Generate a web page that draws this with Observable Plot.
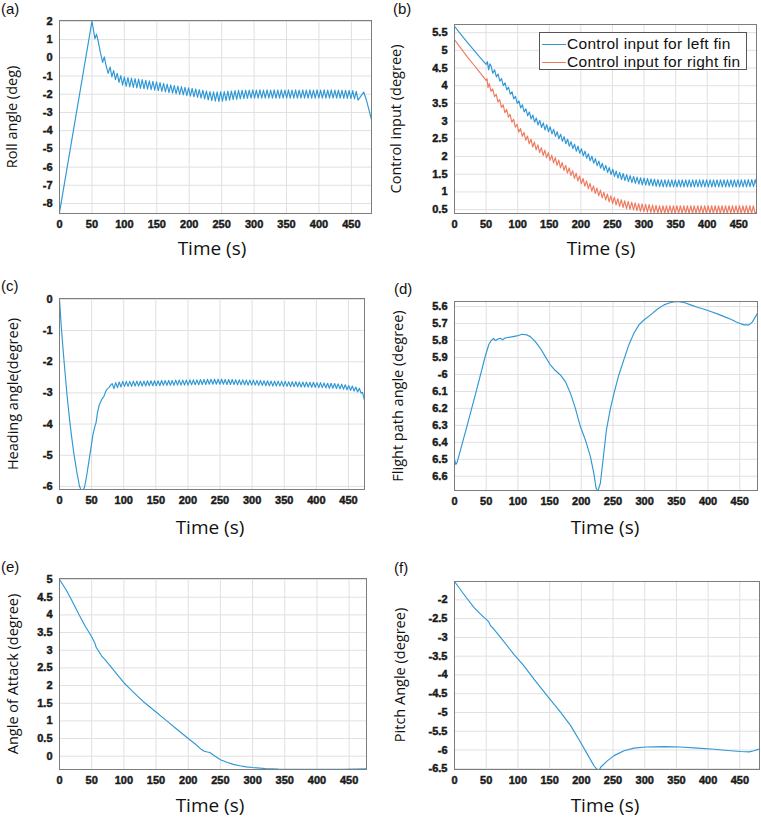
<!DOCTYPE html>
<html>
<head>
<meta charset="utf-8">
<script src="https://cdn.jsdelivr.net/npm/d3@7"></script>
<script src="https://cdn.jsdelivr.net/npm/@observablehq/plot@0.6"></script>
<style>
  body { margin: 0; background: #fff; }
  #wrap { position: relative; width: 761px; height: 817px; background: #fff; overflow: hidden; }
  #wrap svg g[aria-label$="tick label"] text { font-weight: 700; font-family: "Liberation Sans", Arial, sans-serif; stroke: #1a1a1a; stroke-width: 0.45px; paint-order: stroke; }
  .lbl { position: absolute; white-space: nowrap; line-height: 1; color: #111; }
  .ylab { font-family: "Open Sans", sans-serif; font-size: 14.5px; transform: translate(-50%, -50%) rotate(-90deg); }
  .xlab { font-family: "Open Sans", sans-serif; font-size: 19px; transform: translate(-50%, -50%); }
  .plab { font-family: "Liberation Sans", Arial, sans-serif; font-size: 15px; transform: translate(0, -50%); }
  #legend { position: absolute; left: 539px; top: 32px; width: 208px; height: 38px; box-sizing: border-box; border: 1px solid #555; background: #fff; }
  #legend .sw { position: absolute; left: 2px; width: 24px; height: 0; border-top: 1.3px solid; }
  #legend .tx { position: absolute; left: 27px; font-family: "Liberation Sans", Arial, sans-serif; font-size: 15.5px; letter-spacing: 0.3px; line-height: 1; transform: translate(0, -50%); color: #111; white-space: nowrap; }
</style>
</head>
<body>
<div id="wrap"></div>
<script>
// ---------- shared ----------
const timeTicks = [0, 50, 100, 150, 200, 250, 300, 350, 400, 450];
const oscStep = 2.75; // half period of the sampled zig-zag (s)

// ---------- (a) Roll angle ----------
const rollHeadT = [0, 50, 52, 54.5, 57, 59.5, 63, 66.5, 69, 72, 75];
const rollHeadV = [-8.5, 2.0, 1.6, 1.05, 1.3, 0.95, 0.3, -0.25, 0.05, -0.45, -0.85];
const rollOscStart = 78;
const rollOsc = [
  -0.5,-1.05, -0.7,-1.2, -0.85,-1.35, -0.98,-1.5, -1.05,-1.57, -1.08,-1.6, -1.11,-1.63, -1.14,-1.65,
  -1.17,-1.68, -1.2,-1.7, -1.23,-1.72, -1.26,-1.75, -1.29,-1.78, -1.32,-1.8, -1.36,-1.84, -1.4,-1.87,
  -1.44,-1.91, -1.48,-1.94, -1.52,-1.98, -1.55,-2.01, -1.58,-2.04, -1.62,-2.08, -1.65,-2.11, -1.68,-2.14,
  -1.71,-2.17, -1.75,-2.21, -1.78,-2.26, -1.82,-2.31, -1.85,-2.35, -1.87,-2.38, -1.87,-2.4, -1.86,-2.38,
  -1.85,-2.35, -1.83,-2.32, -1.82,-2.3, -1.8,-2.28, -1.79,-2.26, -1.78,-2.24, -1.77,-2.23, -1.77,-2.22,
  -1.76,-2.22, -1.77,-2.21, -1.76,-2.22, -1.77,-2.22, -1.76,-2.21, -1.77,-2.22, -1.76,-2.22, -1.77,-2.21,
  -1.76,-2.22, -1.77,-2.22, -1.76,-2.21, -1.77,-2.22, -1.76,-2.22, -1.77,-2.21, -1.76,-2.22, -1.77,-2.22,
  -1.76,-2.21, -1.77,-2.22, -1.76,-2.22, -1.77,-2.21, -1.76,-2.22, -1.77,-2.22, -1.76,-2.21, -1.77,-2.22,
  -1.77,-2.22, -1.78,-2.23, -1.78,-2.23, -1.79,-2.24, -1.8,-2.26, -1.84,-2.32
];
const rollTailT = [469, 473, 477, 481];
const rollTailV = [-1.88, -2.3, -2.85, -3.4];

// ---------- (b) Control inputs ----------
const leftHeadT = [0, 10, 20, 30, 40, 50, 52, 54, 56];
const leftHeadV = [5.68, 5.45, 5.23, 5.02, 4.81, 4.6, 4.68, 4.45, 4.62];
const leftOscStart = 58;
const leftOsc = [
  4.55,4.35, 4.45,4.25, 4.33,4.13, 4.2,4.0, 4.08,3.88, 3.96,3.76, 3.83,3.63, 3.7,3.5,
  3.57,3.37, 3.46,3.26, 3.35,3.15, 3.26,3.06, 3.17,2.97, 3.09,2.89, 3.02,2.82, 2.95,2.75,
  2.9,2.7, 2.84,2.64, 2.77,2.57, 2.7,2.5, 2.63,2.43, 2.56,2.36, 2.49,2.29, 2.42,2.22,
  2.35,2.15, 2.29,2.09, 2.22,2.02, 2.15,1.95, 2.08,1.88, 2.01,1.81, 1.94,1.74, 1.87,1.67,
  1.81,1.61, 1.75,1.55, 1.69,1.49, 1.64,1.44, 1.59,1.39, 1.55,1.35, 1.52,1.32, 1.49,1.29,
  1.46,1.26, 1.44,1.24, 1.42,1.22, 1.4,1.2, 1.39,1.19, 1.38,1.18, 1.37,1.17, 1.36,1.16,
  1.35,1.15, 1.34,1.14, 1.34,1.14, 1.34,1.14, 1.34,1.14, 1.34,1.14, 1.34,1.14, 1.34,1.14,
  1.34,1.14, 1.34,1.14, 1.34,1.14, 1.34,1.14, 1.34,1.14, 1.34,1.14, 1.34,1.14, 1.34,1.14,
  1.34,1.14, 1.34,1.14, 1.34,1.14, 1.34,1.14, 1.34,1.14, 1.34,1.14, 1.34,1.14, 1.34,1.14,
  1.34,1.14, 1.34,1.14, 1.35,1.15, 1.35,1.15, 1.35,1.15
];
const leftTailT = [478];
const leftTailV = [1.3];

const rightHeadT = [0, 10, 20, 30, 40, 50, 51.5, 53];
const rightHeadV = [5.3, 5.06, 4.82, 4.6, 4.38, 4.15, 4.2, 3.95];
const rightOscStart = 55;
const rightOsc = [
  4.06,3.84, 3.91,3.69, 3.76,3.54, 3.61,3.39, 3.46,3.24, 3.33,3.11, 3.19,2.97, 3.05,2.83,
  2.91,2.69, 2.79,2.57, 2.68,2.46, 2.58,2.36, 2.49,2.27, 2.41,2.19, 2.33,2.11, 2.25,2.03,
  2.18,1.96, 2.11,1.89, 2.04,1.82, 1.97,1.75, 1.9,1.68, 1.83,1.61, 1.75,1.53, 1.68,1.46,
  1.6,1.38, 1.53,1.31, 1.45,1.23, 1.38,1.16, 1.31,1.09, 1.24,1.02, 1.17,0.95, 1.11,0.89,
  1.05,0.83, 0.99,0.77, 0.94,0.72, 0.89,0.67, 0.85,0.63, 0.81,0.59, 0.78,0.56, 0.75,0.53,
  0.73,0.51, 0.71,0.49, 0.69,0.47, 0.67,0.45, 0.66,0.44, 0.65,0.43, 0.64,0.42, 0.63,0.41,
  0.62,0.4, 0.61,0.39, 0.61,0.39, 0.61,0.39, 0.61,0.39, 0.61,0.39, 0.61,0.39, 0.61,0.39,
  0.61,0.39, 0.61,0.39, 0.61,0.39, 0.61,0.39, 0.61,0.39, 0.61,0.39, 0.61,0.39, 0.61,0.39,
  0.61,0.39, 0.61,0.39, 0.61,0.39, 0.61,0.39, 0.61,0.39, 0.61,0.39, 0.61,0.39, 0.61,0.39,
  0.61,0.39, 0.61,0.39, 0.61,0.39, 0.61,0.39, 0.61,0.39
];
const rightTailT = [478];
const rightTailV = [0.45];
const legendLabels = ["Control input for left fin", "Control input for right fin"];

// ---------- (c) Heading angle ----------
const headHeadT = [0, 3, 7, 12, 17, 22, 27, 31, 35, 39, 42, 45, 48, 52, 55, 57, 59, 62, 66, 69, 72, 74, 77, 80];
const headHeadV = [0, -0.94, -1.96, -3.13, -4.1, -4.9, -5.54, -5.98, -6.2, -6.02, -5.7, -5.3, -4.9, -4.35, -4.08, -3.95, -3.65, -3.38, -3.2, -3.12, -2.95, -2.88, -2.83, -2.74];
const headOscStart = 82;
const headOsc = [
  -2.7,-2.86, -2.67,-2.83, -2.65,-2.81, -2.63,-2.79, -2.63,-2.79, -2.63,-2.79,
  -2.62,-2.78, -2.62,-2.78, -2.62,-2.78, -2.62,-2.78,
  -2.61,-2.77, -2.61,-2.77, -2.61,-2.77, -2.61,-2.77,
  -2.6,-2.76, -2.6,-2.76, -2.6,-2.76, -2.6,-2.76,
  -2.59,-2.75, -2.59,-2.75, -2.59,-2.75, -2.59,-2.75,
  -2.58,-2.74, -2.58,-2.74, -2.58,-2.74,
  -2.57,-2.73, -2.57,-2.73,
  -2.56,-2.72, -2.56,-2.72, -2.56,-2.72, -2.56,-2.72, -2.56,-2.72,
  -2.57,-2.73, -2.57,-2.73, -2.57,-2.73,
  -2.58,-2.74, -2.58,-2.74, -2.58,-2.74,
  -2.59,-2.75, -2.59,-2.75, -2.59,-2.75,
  -2.6,-2.76, -2.6,-2.76,
  -2.61,-2.77, -2.61,-2.77,
  -2.62,-2.78, -2.62,-2.78, -2.62,-2.78,
  -2.63,-2.79, -2.63,-2.79,
  -2.64,-2.8, -2.64,-2.8, -2.64,-2.8,
  -2.65,-2.81, -2.65,-2.81, -2.65,-2.81,
  -2.66,-2.82, -2.66,-2.82,
  -2.67,-2.83, -2.67,-2.83,
  -2.68,-2.84,
  -2.69,-2.85, -2.69,-2.85,
  -2.7,-2.86, -2.71,-2.87, -2.72,-2.88, -2.74,-2.9, -2.76,-2.92, -2.78,-2.94, -2.81,-2.97, -2.85,-3.01
];
const headTailT = [472, 475];
const headTailV = [-2.98, -3.25];

// ---------- (d) Flight path angle ----------
const fpT = [0, 2, 4, 20, 35, 48, 54, 58, 61.7, 64, 66.9, 69, 72.2, 76, 80, 88, 98.5, 106.4, 114.3, 119.6,
  127.5, 135.4, 143.3, 151.2, 159.1, 167, 174.9, 182.8, 190.7, 198.6, 206.5, 214.4, 219.7, 223.4, 226, 230.1,
  234.3, 239.7, 246, 252.3, 259.2, 267.1, 275, 283, 290.9, 298.8, 309.3, 319.9, 330.4, 341, 351.5, 362, 372.6,
  383.1, 393.7, 404.2, 414.7, 425.3, 435.8, 446.3, 456.8, 464.7, 470, 478];
const fpV = [-6.5, -6.53, -6.52, -6.3, -6.09, -5.9, -5.825, -5.8, -5.787, -5.8, -5.796, -5.79, -5.787, -5.795, -5.785, -5.78, -5.773, -5.763, -5.767, -5.777,
  -5.806, -5.846, -5.895, -5.944, -5.977, -6.003, -6.042, -6.11, -6.2, -6.307, -6.386, -6.484, -6.582, -6.671, -6.69, -6.641,
  -6.504, -6.327, -6.2, -6.101, -6.003, -5.914, -5.826, -5.757, -5.708, -5.679, -5.649, -5.616, -5.59, -5.576, -5.57, -5.576, -5.59,
  -5.604, -5.616, -5.629, -5.643, -5.659, -5.675, -5.694, -5.708, -5.708, -5.69, -5.64];
const fpTicks = [-5.6, -5.7, -5.8, -5.9, -6, -6.1, -6.2, -6.3, -6.4, -6.5, -6.6];
const fpTickLabels = ["5.6", "5.7", "5.8", "5.9", "-6", "6.1", "6.2", "6.3", "6.4", "6.5", "6.6"];

// ---------- (e) Angle of attack ----------
const aoaT = [0, 10, 20, 30, 40, 50, 55, 57, 60, 65, 70, 80, 90, 100, 110, 120, 130, 140, 150, 160, 170, 180, 190, 200,
  210, 220, 225, 230, 233, 240, 250, 260, 270, 280, 290, 300, 320, 340, 360, 400, 440, 477];
const aoaV = [5.0, 4.72, 4.38, 4.02, 3.68, 3.38, 3.2, 3.08, 3.0, 2.85, 2.75, 2.53, 2.3, 2.08, 1.9, 1.72, 1.55, 1.4, 1.25, 1.1, 0.95, 0.8, 0.65, 0.5,
  0.36, 0.2, 0.14, 0.12, 0.11, 0.02, -0.1, -0.17, -0.23, -0.27, -0.3, -0.32, -0.35, -0.365, -0.37, -0.37, -0.37, -0.36];

// ---------- (f) Pitch angle ----------
const pitchT = [0, 14.7, 30.5, 41, 52.6, 54.5, 56.8, 60, 72.6, 93.7, 109.5, 125.3, 146.3, 167.4, 183.2, 199, 209.5, 220, 225.3, 228,
  230.5, 241, 251.6, 267.4, 283.2, 301.6, 330.5, 356.8, 383.2, 409.5, 435.8, 451.6, 465, 472, 481];
const pitchV = [-1.51, -1.85, -2.2, -2.38, -2.56, -2.6, -2.69, -2.74, -3.0, -3.45, -3.76, -4.11, -4.56, -5.0, -5.35, -5.8, -6.11, -6.42, -6.53, -6.55,
  -6.46, -6.29, -6.15, -6.02, -5.95, -5.92, -5.91, -5.92, -5.95, -5.98, -6.02, -6.04, -6.05, -6.02, -5.97];

// ---------- build series ----------
function pts(T, V) { return T.map((t, i) => ({t, v: V[i]})); }
function osc(start, vals) { return vals.map((v, i) => ({t: start + i * oscStep, v})); }
function series(headT, headV, start, vals, tailT, tailV) {
  return [...pts(headT, headV), ...osc(start, vals), ...pts(tailT, tailV)];
}
const rollData = series(rollHeadT, rollHeadV, rollOscStart, rollOsc, rollTailT, rollTailV);
const leftData = series(leftHeadT, leftHeadV, leftOscStart, leftOsc, leftTailT, leftTailV);
const rightData = series(rightHeadT, rightHeadV, rightOscStart, rightOsc, rightTailT, rightTailV);
const headData = series(headHeadT, headHeadV, headOscStart, headOsc, headTailT, headTailV);
const fpData = pts(fpT, fpV);
const aoaData = pts(aoaT, aoaV);
const pitchData = pts(pitchT, pitchV);

const BLUE = "#2f98d4", RED = "#f07a60";
const wrap = document.getElementById("wrap");
const fmt = d => String(d);
const tickFont = {fontFamily: "'Liberation Sans', Arial, sans-serif", fontSize: 11, fontWeight: "bold"};

function panel(o) {
  const svg = Plot.plot({
    width: o.w, height: o.h,
    marginLeft: o.mL, marginRight: o.mR, marginTop: o.mT, marginBottom: o.mB,
    x: {domain: o.xd},
    y: {domain: o.yd},
    style: {fontFamily: "'Liberation Sans', Arial, sans-serif", fontSize: "11px", fontWeight: "bold", color: "#1a1a1a", background: "transparent", overflow: "visible"},
    marks: [
      Plot.gridX(timeTicks, {stroke: "#e0e0e0", strokeOpacity: 1}),
      Plot.gridY(o.yTicks, {stroke: "#e0e0e0", strokeOpacity: 1}),
      ...o.series.map(s => Plot.line(s.data, {x: "t", y: "v", stroke: s.color, strokeWidth: 1.15, clip: true})),
      Plot.frame({stroke: "#7d7d7d", strokeWidth: 1}),
      Plot.axisX(timeTicks, {tickSize: 0, tickPadding: 7, tickFormat: fmt, label: null, ...tickFont}),
      Plot.axisY(o.yTicks, {tickSize: 0, tickPadding: 7, tickFormat: o.yFmt || fmt, label: null, ...tickFont})
    ]
  });
  svg.style.position = "absolute";
  svg.style.left = o.left + "px";
  svg.style.top = o.top + "px";
  wrap.appendChild(svg);
  addText("ylab", o.ylabel, o.ylx, o.top + o.mT + (o.h - o.mT - o.mB) / 2);
  addText("xlab", "Time (s)", o.xlx, o.xly);
  addText("plab", o.letter, o.plx, o.ply);
}
function addText(cls, txt, x, y) {
  const d = document.createElement("div");
  d.className = "lbl " + cls;
  d.textContent = txt;
  d.style.left = x + "px";
  d.style.top = y + "px";
  wrap.appendChild(d);
}

panel({left: 0, top: 0, w: 380, h: 270, mL: 59, mR: 9, mT: 20, mB: 57,
  xd: [0, 481], yd: [-8.55, 2.05], yTicks: [2, 1, 0, -1, -2, -3, -4, -5, -6, -7, -8],
  series: [{data: rollData, color: BLUE}],
  ylabel: "Roll angle (deg)", ylx: 12, xlx: 212, xly: 248, letter: "(a)", plx: 1, ply: 8});

panel({left: 380, top: 0, w: 381, h: 270, mL: 74, mR: 5, mT: 24, mB: 57,
  xd: [0, 478], yd: [0.39, 5.73], yTicks: [0.5, 1, 1.5, 2, 2.5, 3, 3.5, 4, 4.5, 5, 5.5],
  series: [{data: leftData, color: BLUE}, {data: rightData, color: RED}],
  ylabel: "Control input (degree)", ylx: 396, xlx: 601, xly: 248, letter: "(b)", plx: 393, ply: 8});

panel({left: 0, top: 270, w: 380, h: 270, mL: 59, mR: 16, mT: 28, mB: 51,
  xd: [0, 475], yd: [-6.1, 0.03], yTicks: [0, -1, -2, -3, -4, -5, -6],
  series: [{data: headData, color: BLUE}],
  ylabel: "Heading angle(degree)", ylx: 13, xlx: 210, xly: 527, letter: "(c)", plx: 1, ply: 285});

panel({left: 380, top: 270, w: 381, h: 270, mL: 74, mR: 4, mT: 31, mB: 50,
  xd: [0, 478], yd: [-6.684, -5.57], yTicks: fpTicks,
  yFmt: d => fpTickLabels[fpTicks.indexOf(d)],
  series: [{data: fpData, color: BLUE}],
  ylabel: "Flight path angle (degree)", ylx: 398, xlx: 605, xly: 527, letter: "(d)", plx: 394, ply: 288});

panel({left: 0, top: 540, w: 380, h: 277, mL: 59, mR: 14, mT: 38, mB: 48,
  xd: [0, 477], yd: [-0.376, 5.03], yTicks: [0, 0.5, 1, 1.5, 2, 2.5, 3, 3.5, 4, 4.5, 5],
  series: [{data: aoaData, color: BLUE}],
  ylabel: "Angle of Attack (degree)", ylx: 13, xlx: 210, xly: 805, letter: "(e)", plx: 1, ply: 566});

panel({left: 380, top: 540, w: 381, h: 277, mL: 74, mR: 2, mT: 41, mB: 48,
  xd: [0, 481], yd: [-6.52, -1.51], yTicks: [-2, -2.5, -3, -3.5, -4, -4.5, -5, -5.5, -6, -6.5],
  series: [{data: pitchData, color: BLUE}],
  ylabel: "Pitch Angle (degree)", ylx: 400, xlx: 605, xly: 805, letter: "(f)", plx: 394, ply: 567});

// legend for (b)
const lg = document.createElement("div");
lg.id = "legend";
[BLUE, RED].forEach((c, i) => {
  const y = i === 0 ? 11 : 29;
  const sw = document.createElement("div");
  sw.className = "sw"; sw.style.top = y + "px"; sw.style.borderTopColor = c;
  const tx = document.createElement("div");
  tx.className = "tx"; tx.style.top = y + "px"; tx.textContent = legendLabels[i];
  lg.appendChild(sw); lg.appendChild(tx);
});
wrap.appendChild(lg);
</script>
</body>
</html>
